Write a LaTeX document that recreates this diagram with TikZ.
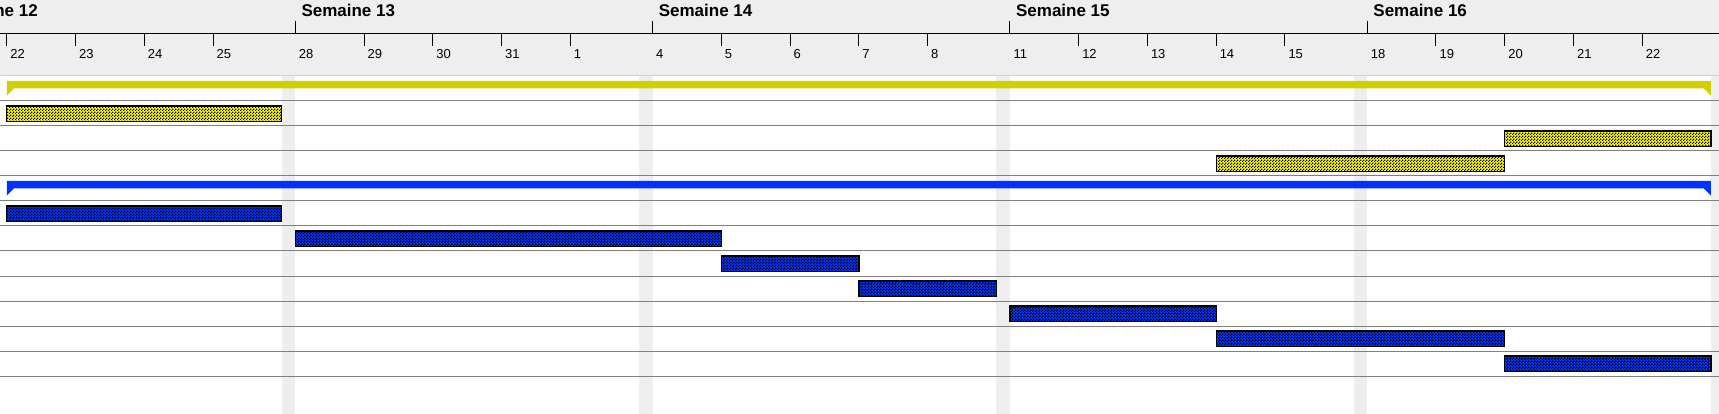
\documentclass[tikz,border=0pt]{standalone}
\usepackage{fontspec}
\setmainfont{Liberation Sans}
\usetikzlibrary{patterns}

\definecolor{headgray}{HTML}{EEEEEE}
\definecolor{edgegray}{HTML}{D0D0D0}
\definecolor{rulegray}{HTML}{808080}
\definecolor{sumyellow}{HTML}{D0CF00}
\definecolor{taskyellow}{HTML}{FFFF00}
\definecolor{taskblue}{HTML}{0033FF}

\pgfdeclarepatternformonly{checks}{\pgfpointorigin}{\pgfqpoint{3pt}{3pt}}{\pgfqpoint{3pt}{3pt}}{%
	\pgfpathrectangle{\pgfpointorigin}{\pgfqpoint{1.5pt}{1.5pt}}%
	\pgfpathrectangle{\pgfqpoint{1.5pt}{1.5pt}}{\pgfqpoint{1.5pt}{1.5pt}}%
	\pgfusepath{fill}}

% x of the start of day #2 (0 = monday) in week #1 (0 = week 12)
\newcommand{\dayx}[2]{-62 + (#1)*357.3 + (#2)*68.75}

\newcommand{\taskbar}[6]{%
  % #1 = row
  % #2, #3 = week, day of the first day
  % #4, #5 = week, day after the last day
  % #6 = colour
	\fill[#6] ({\dayx{#2}{#3}}, {81 + 25*#1}) rectangle ({\dayx{#4}{#5}}, {96.7 + 25*#1});
	\fill[pattern=checks, pattern color=black] ({\dayx{#2}{#3}}, {81 + 25*#1}) rectangle ({\dayx{#4}{#5}}, {96.7 + 25*#1});
	\draw[black, line width=1.3pt] ({\dayx{#2}{#3}}, {81 + 25*#1}) rectangle ({\dayx{#4}{#5}}, {96.7 + 25*#1});
}

\newcommand{\summarybar}[2]{%
  % #1 = row
  % #2 = colour
	\fill[#2] ({\dayx{0}{1}}, {81 + 25*#1}) -- ({\dayx{4}{5}}, {81 + 25*#1})
		-- ({\dayx{4}{5}}, {95.7 + 25*#1}) -- ({\dayx{4}{5} - 7}, {88.5 + 25*#1})
		-- ({\dayx{0}{1} + 7}, {88.5 + 25*#1}) -- ({\dayx{0}{1}}, {95.7 + 25*#1}) -- cycle;
}

\begin{document}
\begin{tikzpicture}[x=1pt, y=-1pt]
		\useasboundingbox (0, 0) rectangle (1719, 414);
		\clip (0, 0) rectangle (1719, 414);
		% header
		\fill[headgray] (0, 0) rectangle (1719, 76);
		\draw[edgegray, line width=1pt] (0, 75.5) -- (1719, 75.5);
		\draw[black, line width=1pt] (0, 34) -- (1719, 34);
		\foreach \w/\n in {0/12, 1/13, 2/14, 3/15, 4/16} {
			\draw[black, line width=1pt] ({\dayx{\w}{0}}, 21) -- ({\dayx{\w}{0}}, 34);
			\node[anchor=base west, inner sep=0, font=\bfseries\fontsize{17}{20}\selectfont] (wk\n) at ({\dayx{\w}{0} + 6}, 16.7) {Semaine \n};
		}
		\foreach \w/\days in {0/{21,22,23,24,25}, 1/{28,29,30,31,1}, 2/{4,5,6,7,8}, 3/{11,12,13,14,15}, 4/{18,19,20,21,22}} {
			\foreach \lbl [count=\d from 0] in \days {
				\ifnum\d>0
					\draw[black, line width=1pt] ({\dayx{\w}{\d}}, 34) -- ({\dayx{\w}{\d}}, 46);
				\fi
				\ifnum\numexpr\w+\d\relax>0
					\node[anchor=base west, inner sep=0, font=\fontsize{13}{15}\selectfont] (day-\w-\d) at ({\dayx{\w}{\d} + 3.4}, 59) {\lbl};
				\fi
			}
		}
		% weekends
		\foreach \w in {0,...,4}
			\fill[headgray] ({\dayx{\w}{5}}, 76.5) rectangle ({\dayx{\w + 1}{0}}, 414);
		% rows
		\foreach \r in {0,...,11}
			\draw[rulegray, line width=1pt] (0, {101 + 25*\r}) -- (1719, {101 + 25*\r});
		% tasks
		\summarybar{0}{sumyellow}
		\taskbar{1}{0}{1}{0}{5}{taskyellow}
		\taskbar{2}{4}{2}{4}{5}{taskyellow}
		\taskbar{3}{3}{3}{4}{2}{taskyellow}
		\summarybar{4}{taskblue}
		\taskbar{5}{0}{1}{0}{5}{taskblue}
		\taskbar{6}{1}{0}{2}{1}{taskblue}
		\taskbar{7}{2}{1}{2}{3}{taskblue}
		\taskbar{8}{2}{3}{2}{5}{taskblue}
		\taskbar{9}{3}{0}{3}{3}{taskblue}
		\taskbar{10}{3}{3}{4}{2}{taskblue}
		\taskbar{11}{4}{2}{4}{5}{taskblue}
	\end{tikzpicture}
\end{document}
